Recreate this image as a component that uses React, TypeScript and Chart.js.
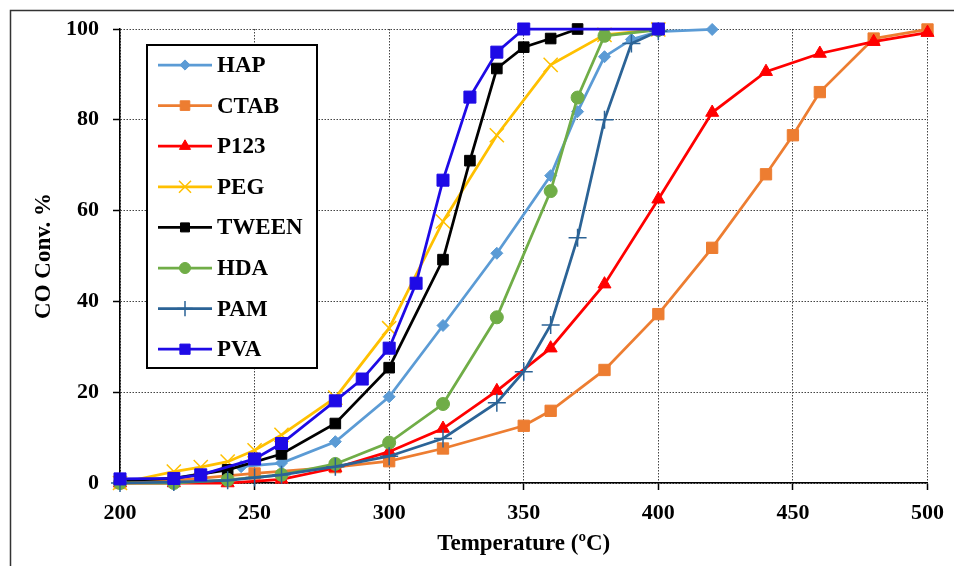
import { useEffect, useRef } from "react";
import { Chart, registerables } from "chart.js";
import { drawPoint } from "chart.js/helpers";

Chart.register(...registerables);

const seriesNames = ["HAP", "CTAB", "P123", "PEG", "TWEEN", "HDA", "PAM", "PVA"];

const hapTemp = [200, 220, 245, 260, 280, 300, 320, 340, 360, 370, 380, 390, 400, 420];
const hapConv = [0.3, 1.0, 3.6, 4.4, 9.1, 19.0, 34.7, 50.6, 67.7, 81.8, 93.9, 97.7, 99.4, 99.9];

const ctabTemp = [200, 220, 250, 280, 300, 320, 350, 360, 380, 400, 420, 440, 450, 460, 480, 500];
const ctabConv = [0, 0.5, 2.1, 3.5, 4.8, 7.6, 12.6, 15.9, 24.9, 37.2, 51.8, 68.0, 76.6, 86.1, 97.9, 99.9];

const p123Temp = [200, 220, 240, 260, 280, 300, 320, 340, 360, 380, 400, 420, 440, 460, 480, 500];
const p123Conv = [0, 0, 0, 0.8, 3.3, 6.9, 12.0, 20.3, 29.7, 43.8, 62.5, 81.6, 90.6, 94.6, 97.2, 99.2];

const pegTemp = [200, 220, 230, 240, 250, 260, 280, 300, 320, 340, 360, 380, 400];
const pegConv = [0, 2.5, 3.5, 4.7, 7.2, 10.6, 18.8, 34.1, 57.6, 76.6, 92.1, 98.7, 99.9];

const tweenTemp = [200, 220, 240, 260, 280, 300, 320, 330, 340, 350, 360, 370];
const tweenConv = [0.5, 1.0, 2.9, 6.4, 13.1, 25.4, 49.2, 71.0, 91.3, 96.0, 97.9, 100];

const hdaTemp = [200, 220, 240, 260, 280, 300, 320, 340, 360, 370, 380, 400];
const hdaConv = [0, 0, 0.7, 1.8, 4.2, 8.9, 17.4, 36.5, 64.3, 84.9, 98.5, 99.8];

const pamTemp = [200, 220, 240, 250, 260, 280, 300, 320, 340, 350, 360, 370, 380, 390, 400];
const pamConv = [0, 0.2, 0.6, 1.2, 1.8, 3.6, 5.9, 9.8, 17.7, 24.5, 34.8, 54.0, 80.0, 96.8, 99.5];

const pvaTemp = [200, 220, 230, 250, 260, 280, 290, 300, 310, 320, 330, 340, 350, 400];
const pvaConv = [0.9, 1.0, 1.8, 5.3, 8.7, 18.1, 22.9, 29.7, 44.0, 66.7, 85.0, 94.9, 100, 100];

const xTitle = "Temperature (ºC)";
const yTitle = "CO Conv. %";

const temps = [hapTemp, ctabTemp, p123Temp, pegTemp, tweenTemp, hdaTemp, pamTemp, pvaTemp];
const convs = [hapConv, ctabConv, p123Conv, pegConv, tweenConv, hdaConv, pamConv, pvaConv];
const colors = ["#5B9BD5", "#ED7D31", "#FF0000", "#FFC000", "#000000", "#70AD47", "#2B6396", "#1E0AE6"];
const styles = ["rectRot", "rect", "triangle", "crossRot", "rect", "circle", "cross", "rect"];
const radii = [6, 8, 7.5, 10, 7.5, 6.5, 9, 8.5];
const lineWidths = [2.75, 2.75, 2.75, 2.75, 2.75, 2.75, 2.75, 2.75];
const pointBorderWidths = [1, 1, 1, 1.5, 1, 1, 1.5, 1];

const FONT = "'Liberation Serif', 'Times New Roman', serif";

const framePlugin = {
  id: "frame",
  beforeDraw(chart: any) {
    const ctx = chart.ctx;
    ctx.save();
    ctx.fillStyle = "#fff";
    ctx.fillRect(0, 0, chart.width, chart.height);
    ctx.strokeStyle = "#333";
    ctx.lineWidth = 1.5;
    ctx.beginPath();
    ctx.moveTo(10.5, chart.height + 5);
    ctx.lineTo(10.5, 10.5);
    ctx.lineTo(chart.width + 5, 10.5);
    ctx.stroke();
    ctx.restore();
  },
};

const boxLegendPlugin = {
  id: "boxLegend",
  afterDatasetsDraw(chart: any) {
    const ctx = chart.ctx;
    const left = 147, top = 45, w = 170, h = 323;
    ctx.save();
    ctx.fillStyle = "#fff";
    ctx.fillRect(left, top, w, h);
    ctx.strokeStyle = "#000";
    ctx.lineWidth = 2;
    ctx.strokeRect(left, top, w, h);
    chart.data.datasets.forEach((ds: any, i: number) => {
      const y = 65 + i * 40.6;
      ctx.setLineDash([]);
      ctx.strokeStyle = ds.borderColor;
      ctx.lineWidth = ds.borderWidth;
      ctx.beginPath();
      ctx.moveTo(158, y);
      ctx.lineTo(212, y);
      ctx.stroke();
      ctx.fillStyle = ds.pointBackgroundColor;
      ctx.strokeStyle = ds.pointBorderColor;
      ctx.lineWidth = ds.pointBorderWidth;
      drawPoint(ctx, { pointStyle: ds.pointStyle, radius: ds.pointRadius * 0.85, rotation: 0, borderWidth: ds.pointBorderWidth }, 185, y);
      ctx.fillStyle = "#000";
      ctx.font = `bold 23px ${FONT}`;
      ctx.textAlign = "left";
      ctx.textBaseline = "middle";
      ctx.fillText(ds.label, 217, y + 1);
    });
    ctx.restore();
  },
};

export default function App() {
  const ref = useRef<HTMLCanvasElement | null>(null);
  useEffect(() => {
    if (!ref.current) return;
    const datasets = seriesNames.map((name, i) => ({
      label: name,
      data: temps[i].map((t, j) => ({ x: t, y: convs[i][j] })),
      borderColor: colors[i],
      backgroundColor: colors[i],
      pointBackgroundColor: colors[i],
      pointBorderColor: colors[i],
      pointBorderWidth: pointBorderWidths[i],
      pointStyle: styles[i],
      pointRadius: radii[i],
      borderWidth: lineWidths[i],
      tension: 0,
      clip: false as any,
      order: seriesNames.length - i,
    }));
    const chart = new Chart(ref.current, {
      type: "line",
      data: { datasets },
      plugins: [framePlugin, boxLegendPlugin],
      options: {
        animation: false,
        responsive: false,
        layout: { padding: { left: 0, top: 29, right: 25, bottom: 0 } },
        plugins: { legend: { display: false }, tooltip: { enabled: false } },
        scales: {
          x: {
            type: "linear",
            min: 200,
            max: 500,
            ticks: { stepSize: 50, color: "#000", padding: 10, font: { family: FONT, size: 22, weight: "bold" } },
            grid: { color: "#444", lineWidth: 1, tickLength: 7, tickColor: "#000", tickWidth: 1.5 },
            border: { color: "#000", width: 1.5, dash: [1.5, 1.5] },
            title: { display: true, text: xTitle, color: "#000", padding: { top: 0, bottom: 8 }, font: { family: FONT, size: 23, weight: "bold" } },
            afterFit: (s: any) => { s.height = 83; },
          },
          y: {
            type: "linear",
            min: 0,
            max: 100,
            ticks: { stepSize: 20, color: "#000", padding: 14, font: { family: FONT, size: 22, weight: "bold" } },
            grid: { color: "#444", lineWidth: 1, tickLength: 7, tickColor: "#000", tickWidth: 1.5 },
            border: { color: "#000", width: 1.5, dash: [1.5, 1.5] },
            title: { display: true, text: yTitle, color: "#000", padding: { top: 30, bottom: 0 }, font: { family: FONT, size: 23, weight: "bold" } },
            afterFit: (s: any) => { s.width = 120; },
          },
        },
      },
    });
    return () => chart.destroy();
  }, []);
  return (
    <div style={{ position: "fixed", left: 0, top: 0, width: 954, height: 566, background: "#fff" }}>
      <canvas ref={ref} width={954} height={566} style={{ width: 954, height: 566, display: "block" }} />
    </div>
  );
}
